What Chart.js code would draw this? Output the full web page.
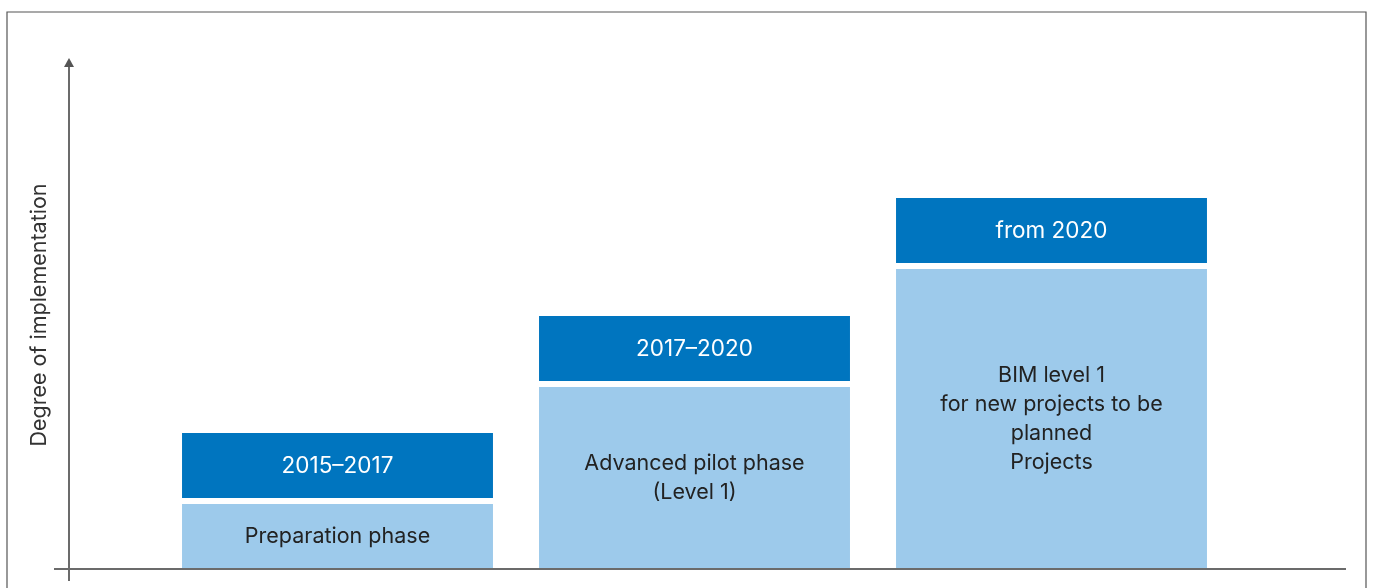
<!DOCTYPE html>
<html lang="en">
<head>
<meta charset="UTF-8">
<title>Degree of implementation</title>
<script src="https://cdn.jsdelivr.net/npm/chart.js"></script>
<style>
    body { margin: 0; background: #fff; }
    #wrap { width: 1373px; height: 588px; position: relative; }
</style>
</head>
<body>
<div id="wrap"><canvas id="chart" width="1373" height="588"></canvas></div>
<script>
// phases (categories)
const phases = ['Preparation phase', 'Advanced pilot phase', 'BIM level 1'];
// text shown in the light part of each bar
const phaseLabels = [
    ['Preparation phase'],
    ['Advanced pilot phase', '(Level 1)'],
    ['BIM level 1', 'for new projects to be', 'planned', 'Projects']
];
// text shown in the dark top part
const periodLabels = ['2015–2017', '2017–2020', 'from 2020'];

// degree of implementation (arbitrary units, 0-10)
const phaseValues = [1.39, 3.68, 5.99];
const periodValues = [1.27, 1.27, 1.27];

const LIGHT = '#9dcaeb';
const DARK = '#0075bf';
const GAP = 6;

// frame, axes with arrow and texts inside the bars
const decor = {
    id: 'decor',
    afterDraw(chart) {
        const ctx = chart.ctx;
        const area = chart.chartArea;
        const yAxisX = 69;
        ctx.save();

        // outer frame
        ctx.strokeStyle = '#555';
        ctx.lineWidth = 1.2;
        ctx.beginPath();
        ctx.moveTo(7, 588);
        ctx.lineTo(7, 12);
        ctx.lineTo(1366, 12);
        ctx.lineTo(1366, 588);
        ctx.stroke();

        // axes
        ctx.strokeStyle = '#6b6b6b';
        ctx.lineWidth = 2;
        ctx.beginPath();
        ctx.moveTo(yAxisX, 581);
        ctx.lineTo(yAxisX, area.top + 6);
        ctx.moveTo(54, area.bottom);
        ctx.lineTo(1346, area.bottom);
        ctx.stroke();
        ctx.fillStyle = '#555';
        ctx.beginPath();
        ctx.moveTo(yAxisX, area.top);
        ctx.lineTo(yAxisX - 5, area.top + 9);
        ctx.lineTo(yAxisX + 5, area.top + 9);
        ctx.closePath();
        ctx.fill();

        // y axis title
        ctx.save();
        ctx.translate(40, 315);
        ctx.rotate(-Math.PI / 2);
        ctx.fillStyle = '#333';
        ctx.font = '21.5px Inter, "Noto Sans", sans-serif';
        ctx.textAlign = 'center';
        ctx.textBaseline = 'middle';
        ctx.fillText('Degree of implementation', 0, 0);
        ctx.restore();

        // bar texts
        ctx.textAlign = 'center';
        ctx.textBaseline = 'middle';
        const lineH = 29;
        ctx.font = '21.5px Inter, "Noto Sans", sans-serif';
        chart.getDatasetMeta(0).data.forEach((bar, i) => {
            const lines = phaseLabels[i];
            const mid = (bar.y + GAP + bar.base) / 2;
            ctx.fillStyle = '#222';
            lines.forEach((t, k) => {
                ctx.fillText(t, bar.x, mid + (k - (lines.length - 1) / 2) * lineH);
            });
        });
        ctx.font = '22.5px Inter, "Noto Sans", sans-serif';
        chart.getDatasetMeta(1).data.forEach((bar, i) => {
            ctx.fillStyle = '#fff';
            ctx.fillText(periodLabels[i], bar.x, (bar.y + bar.base) / 2 + 1);
        });
        ctx.restore();
    }
};

new Chart(document.getElementById('chart'), {
    type: 'bar',
    data: {
        labels: phases,
        datasets: [
            {
                label: 'Phase',
                data: phaseValues,
                backgroundColor: LIGHT,
                borderColor: '#fff',
                borderWidth: { top: GAP, left: 0, right: 0, bottom: 0 },
                borderSkipped: false
            },
            {
                label: 'Period',
                data: periodValues,
                backgroundColor: DARK,
                borderWidth: 0
            }
        ]
    },
    options: {
        responsive: false,
        animation: false,
        layout: { padding: { left: 159, right: 143, top: 58, bottom: 19 } },
        datasets: { bar: { categoryPercentage: 1, barPercentage: 0.871 } },
        scales: {
            x: { stacked: true, display: false },
            y: { stacked: true, display: false, min: 0, max: 10 }
        },
        plugins: {
            legend: { display: false },
            tooltip: { enabled: false }
        }
    },
    plugins: [decor]
});
</script>
</body>
</html>
